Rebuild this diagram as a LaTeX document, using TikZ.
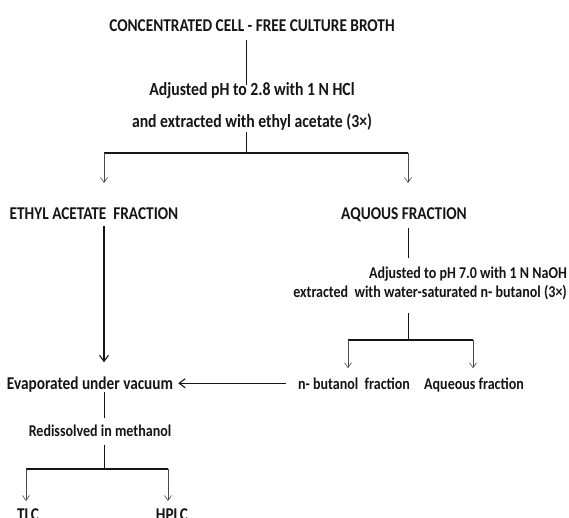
\documentclass[tikz,border=0pt]{standalone}
\usepackage{fontspec}
\setmainfont{Carlito}
\newfontfamily\flowfont[FakeStretch=0.85]{Carlito}
\usetikzlibrary{arrows.meta, positioning, calc}
\definecolor{ink}{HTML}{151515}
\definecolor{fine}{HTML}{4A4A4A}
\tikzset{
  font=\flowfont\bfseries\fontsize{18}{21}\selectfont,
  %
  lbl/.style={inner sep=0pt, text=ink, anchor=base, align=center},
  small/.style={font=\flowfont\bfseries\fontsize{16.5}{19}\selectfont},
  %
  link/.style={draw=ink, line width=1pt},
  bar/.style={draw=ink, line width=2.2pt},
  drop/.style={draw=fine, line width=0.6pt, -{Straight Barb[length=5pt, width=7pt]}},
  flow/.style={draw=ink, line width=1.1pt, -{Straight Barb[length=6pt, width=9pt]}},
}

\begin{document}
\begin{tikzpicture}[x=1pt, y=-1pt]
\useasboundingbox (0,0) rectangle (569,517);
\clip (0,0) rectangle (569,517);

% =========================================================================
% broth and first extraction
% =========================================================================
\node[lbl] (broth) at (252,31) {CONCENTRATED CELL - FREE CULTURE BROTH};
\node[lbl, font=\flowfont\bfseries\fontsize{18.5}{32}\selectfont] (acid) at (252,127)
  {Adjusted pH to 2.8 with 1 N HCl\\and extracted with ethyl acetate (3×)};

\coordinate (fork) at (246,153);
\coordinate (forkL) at (104,153);
\coordinate (forkR) at (408,153);

\draw[link, shorten <=9pt, shorten >=-3pt] (broth.south -| fork) -- (acid.north -| fork);
\draw[link, shorten <=2pt] (acid.south -| fork) -- (fork);
\draw[bar] (forkL) -- (forkR);

\node[lbl] (ethyl) at (94,219) {ETHYL ACETATE\ \ FRACTION};
\node[lbl] (aqfrac) at (404,219) {AQUOUS FRACTION};
\draw[drop, shorten >=24pt] (forkL) -- (ethyl.north -| forkL);
\draw[drop, shorten >=24pt] (forkR) -- (aqfrac.north -| forkR);

% =========================================================================
% aqueous side: butanol extraction
% =========================================================================
\node[lbl, small, anchor=base east, align=right] (base) at (567,297)
  {Adjusted to pH 7.0 with 1 N NaOH\\extracted\ \ with water-saturated n- butanol (3×)};
\draw[link, shorten <=7pt, shorten >=8pt] (aqfrac.south -| forkR) -- (base.north -| forkR);

\coordinate (fork2) at (408,340);
\coordinate (fork2L) at (348,340);
\coordinate (fork2R) at (473,340);
\draw[link, shorten <=13pt] (base.south -| fork2) -- (fork2);
\draw[bar] (fork2L) -- (fork2R);

\node[lbl, small] (nbut) at (354,389) {n- butanol\ \ fraction};
\node[lbl, small] (aqlow) at (474,389) {Aqueous fraction};
\draw[drop, shorten >=9pt] (fork2L) -- (nbut.north -| fork2L);
\draw[drop, shorten >=9pt] (fork2R) -- (aqlow.north -| fork2R);

% =========================================================================
% ethyl acetate side: evaporation and analysis
% =========================================================================
\node[lbl] (evap) at (90,389) {Evaporated under vacuum};
\draw[flow, shorten <=7pt, shorten >=14pt] (ethyl.south -| forkL) -- (evap.north -| forkL);
\draw[flow, shorten <=12pt, shorten >=5pt] (nbut.west) -- (nbut.west -| evap.east);

\node[lbl, small] (redis) at (100,436) {Redissolved in methanol};
\draw[link, shorten >=6pt] (evap.south -| forkL) -- (redis.north -| forkL);

\coordinate (fork3) at (104,469);
\coordinate (fork3L) at (26,469);
\coordinate (fork3R) at (168,469);
\draw[link, shorten <=9pt] (redis.south -| fork3) -- (fork3);
\draw[bar] (fork3L) -- (fork3R);

\node[lbl] (tlc) at (28,520) {TLC};
\node[lbl] (hplc) at (172,520) {HPLC};
\draw[drop, shorten >=7pt] (fork3L) -- (tlc.north -| fork3L);
\draw[drop, shorten >=7pt] (fork3R) -- (hplc.north -| fork3R);

\end{tikzpicture}
\end{document}
